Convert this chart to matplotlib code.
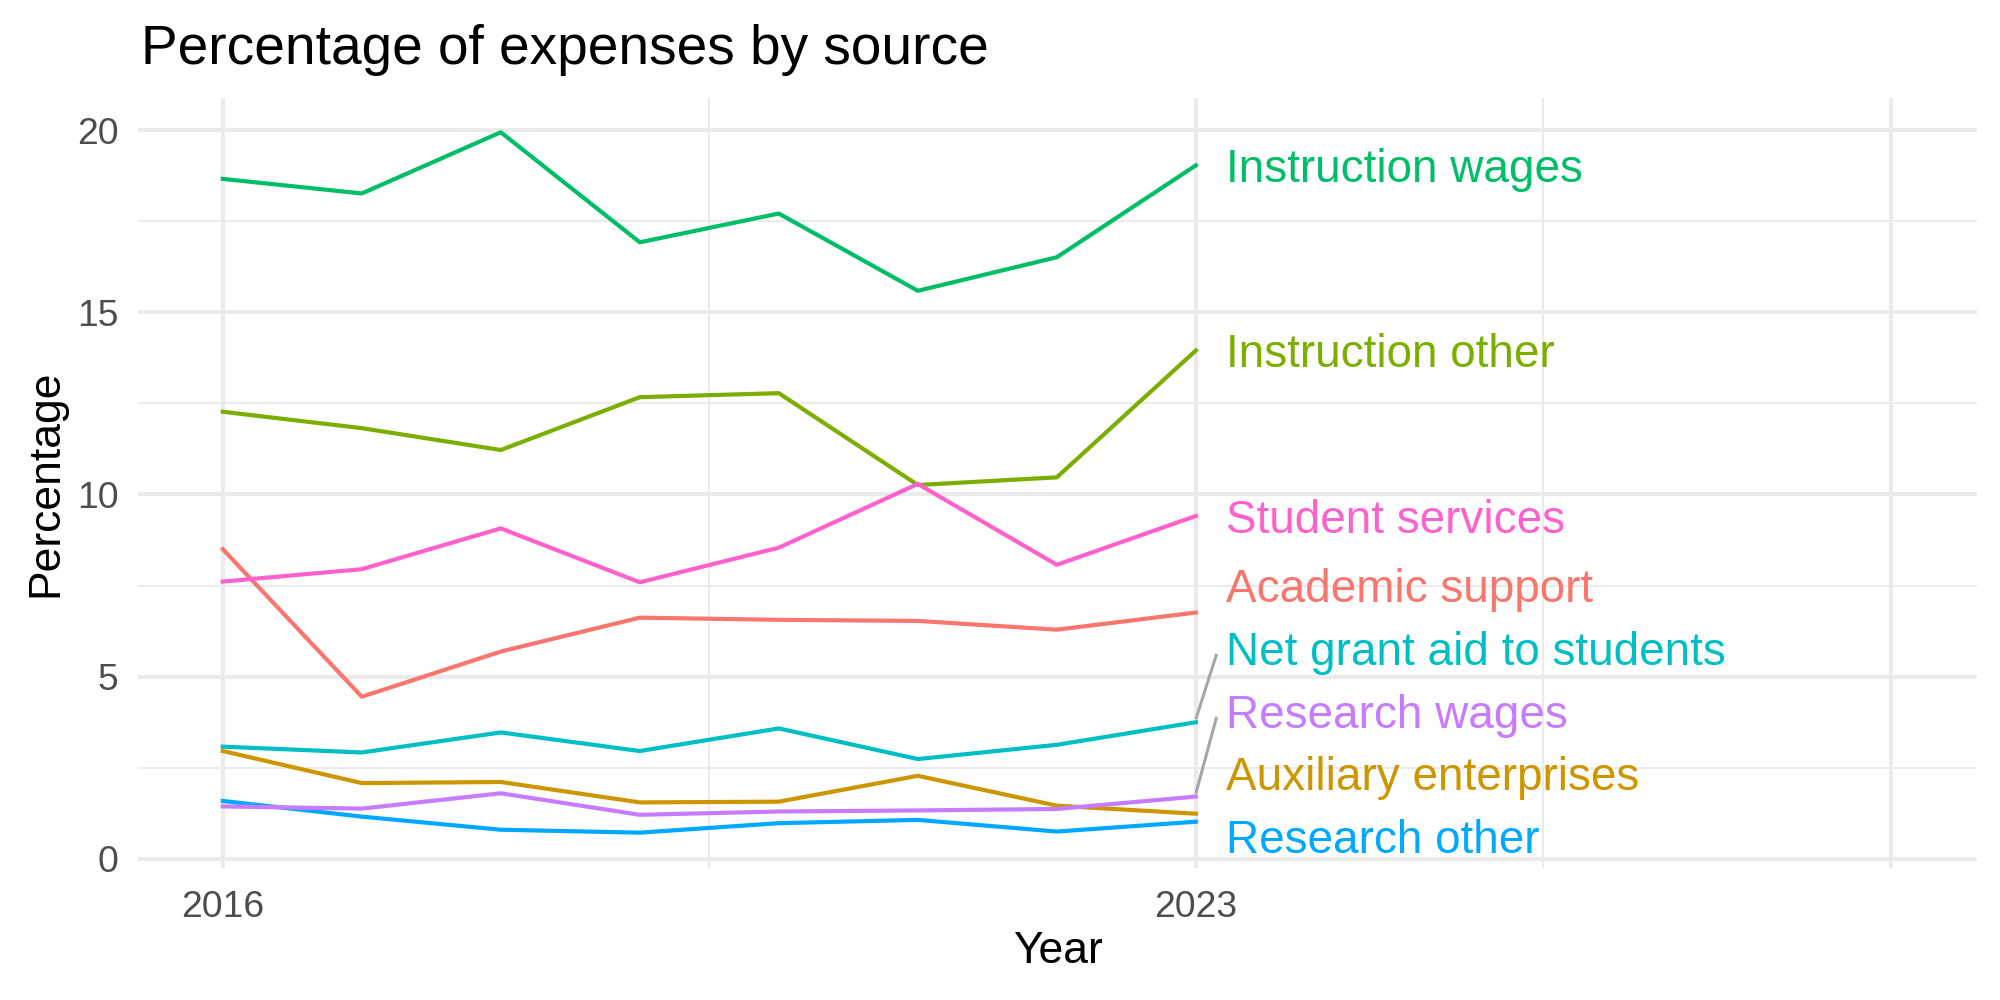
import numpy as np
import matplotlib
matplotlib.use('Agg')
import matplotlib.pyplot as plt

plt.rcParams['font.family'] = ['Liberation Sans', 'DejaVu Sans']

# ---- data -----------------------------------------------------------------
years = [2016, 2017, 2018, 2019, 2020, 2021, 2022, 2023]

academic_support = [8.50, 4.45, 5.69, 6.62, 6.56, 6.53, 6.29, 6.76]
auxiliary_enterprises = [2.96, 2.08, 2.11, 1.55, 1.57, 2.28, 1.46, 1.24]
instruction_other = [12.27, 11.82, 11.22, 12.67, 12.78, 10.26, 10.47, 13.95]
instruction_wages = [18.66, 18.26, 19.94, 16.92, 17.71, 15.59, 16.51, 19.03]
net_grant_aid = [3.08, 2.92, 3.47, 2.96, 3.58, 2.74, 3.13, 3.75]
research_other = [1.59, 1.16, 0.80, 0.72, 0.98, 1.07, 0.75, 1.02]
research_wages = [1.44, 1.38, 1.80, 1.21, 1.30, 1.33, 1.37, 1.71]
student_services = [7.61, 7.95, 9.07, 7.59, 8.54, 10.29, 8.07, 9.41]

series_names = ['Academic support', 'Auxiliary enterprises', 'Instruction other',
                'Instruction wages', 'Net grant aid to students', 'Research other',
                'Research wages', 'Student services']
series_values = [academic_support, auxiliary_enterprises, instruction_other,
                 instruction_wages, net_grant_aid, research_other,
                 research_wages, student_services]
# ggplot default hue palette for 8 groups
colors = ['#F8766D', '#CD9600', '#7CAE00', '#00BE67',
          '#00BFC4', '#00A9FF', '#C77CFF', '#FF61CC']

x_breaks = [2016, 2023, 2028]
x_labels = ['2016', '2023', '']
y_breaks = [0, 5, 10, 15, 20]


def repel_1d(targets, gap, floor):
    """Pack labels so they are >= gap apart, each cluster centred on its targets."""
    order = list(np.argsort(targets))
    clusters = []  # each: list of indices (sorted)
    for i in order:
        clusters.append([i])
        while True:
            # position of each cluster's first label
            def first(c):
                base = np.mean([targets[j] - k * gap for k, j in enumerate(c)])
                return max(base, floor)
            if len(clusters) < 2:
                break
            a, b = clusters[-2], clusters[-1]
            if first(a) + len(a) * gap > first(b) + 1e-9:
                clusters[-2] = a + b
                clusters.pop()
            else:
                break
    pos = {}
    for c in clusters:
        base = max(np.mean([targets[j] - k * gap for k, j in enumerate(c)]), floor)
        for k, j in enumerate(c):
            pos[j] = base + k * gap
    return pos


# ---- figure --------------------------------------------------------------
fig = plt.figure(figsize=(10, 5), dpi=200)
ax = fig.add_axes([0.069, 0.132, 0.9195, 0.770])

grid_col = '#EBEBEB'
for xb in x_breaks:
    ax.axvline(xb, color=grid_col, lw=1.5, zorder=0)
for xm in [2019.5, 2025.5]:
    ax.axvline(xm, color=grid_col, lw=0.75, zorder=0)
for yb in y_breaks:
    ax.axhline(yb, color=grid_col, lw=1.5, zorder=0)
for ym in [2.5, 7.5, 12.5, 17.5]:
    ax.axhline(ym, color=grid_col, lw=0.75, zorder=0)

for name, vals, col in zip(series_names, series_values, colors):
    ax.plot(years, vals, color=col, lw=1.5, zorder=2)

# ---- end labels ----------------------------------------------------------
label_y = repel_1d([v[-1] for v in series_values], gap=1.725, floor=0.61)

x_end = years[-1]
for i, (name, vals, col) in enumerate(zip(series_names, series_values, colors)):
    ly = label_y[i]
    if ly - vals[-1] > 1.5:
        ax.plot([x_end, x_end + 0.15], [vals[-1] + 0.08, ly - 0.16],
                color='#A6A6A6', lw=1.1, zorder=1, solid_capstyle='butt')
    ax.annotate(name, xy=(x_end + 0.22, ly), xytext=(0, -6.0),
                textcoords='offset points', va='baseline', ha='left',
                color=col, fontsize=16.5, zorder=3)

ax.set_xlim(2015.39, 2028.62)
ax.set_ylim(-0.25, 20.88)
ax.set_xticks(x_breaks)
ax.set_xticklabels(x_labels)
ax.set_yticks(y_breaks)
ax.set_yticklabels([str(v) for v in y_breaks])
ax.tick_params(length=0, labelsize=13.4, labelcolor='#4D4D4D')
ax.tick_params(axis='y', pad=7)
ax.tick_params(axis='x', pad=8)
for sp in ax.spines.values():
    sp.set_visible(False)

ax.set_xlabel('Year', fontsize=16)
ax.set_ylabel('Percentage', fontsize=16)
ax.xaxis.set_label_coords(0.5, -0.082)
ax.yaxis.set_label_coords(-0.039, 0.5)

fig.text(0.0705, 0.936, 'Percentage of expenses by source', fontsize=19.8,
         ha='left', va='baseline')

fig.savefig('out.png', dpi=200, facecolor='white')
